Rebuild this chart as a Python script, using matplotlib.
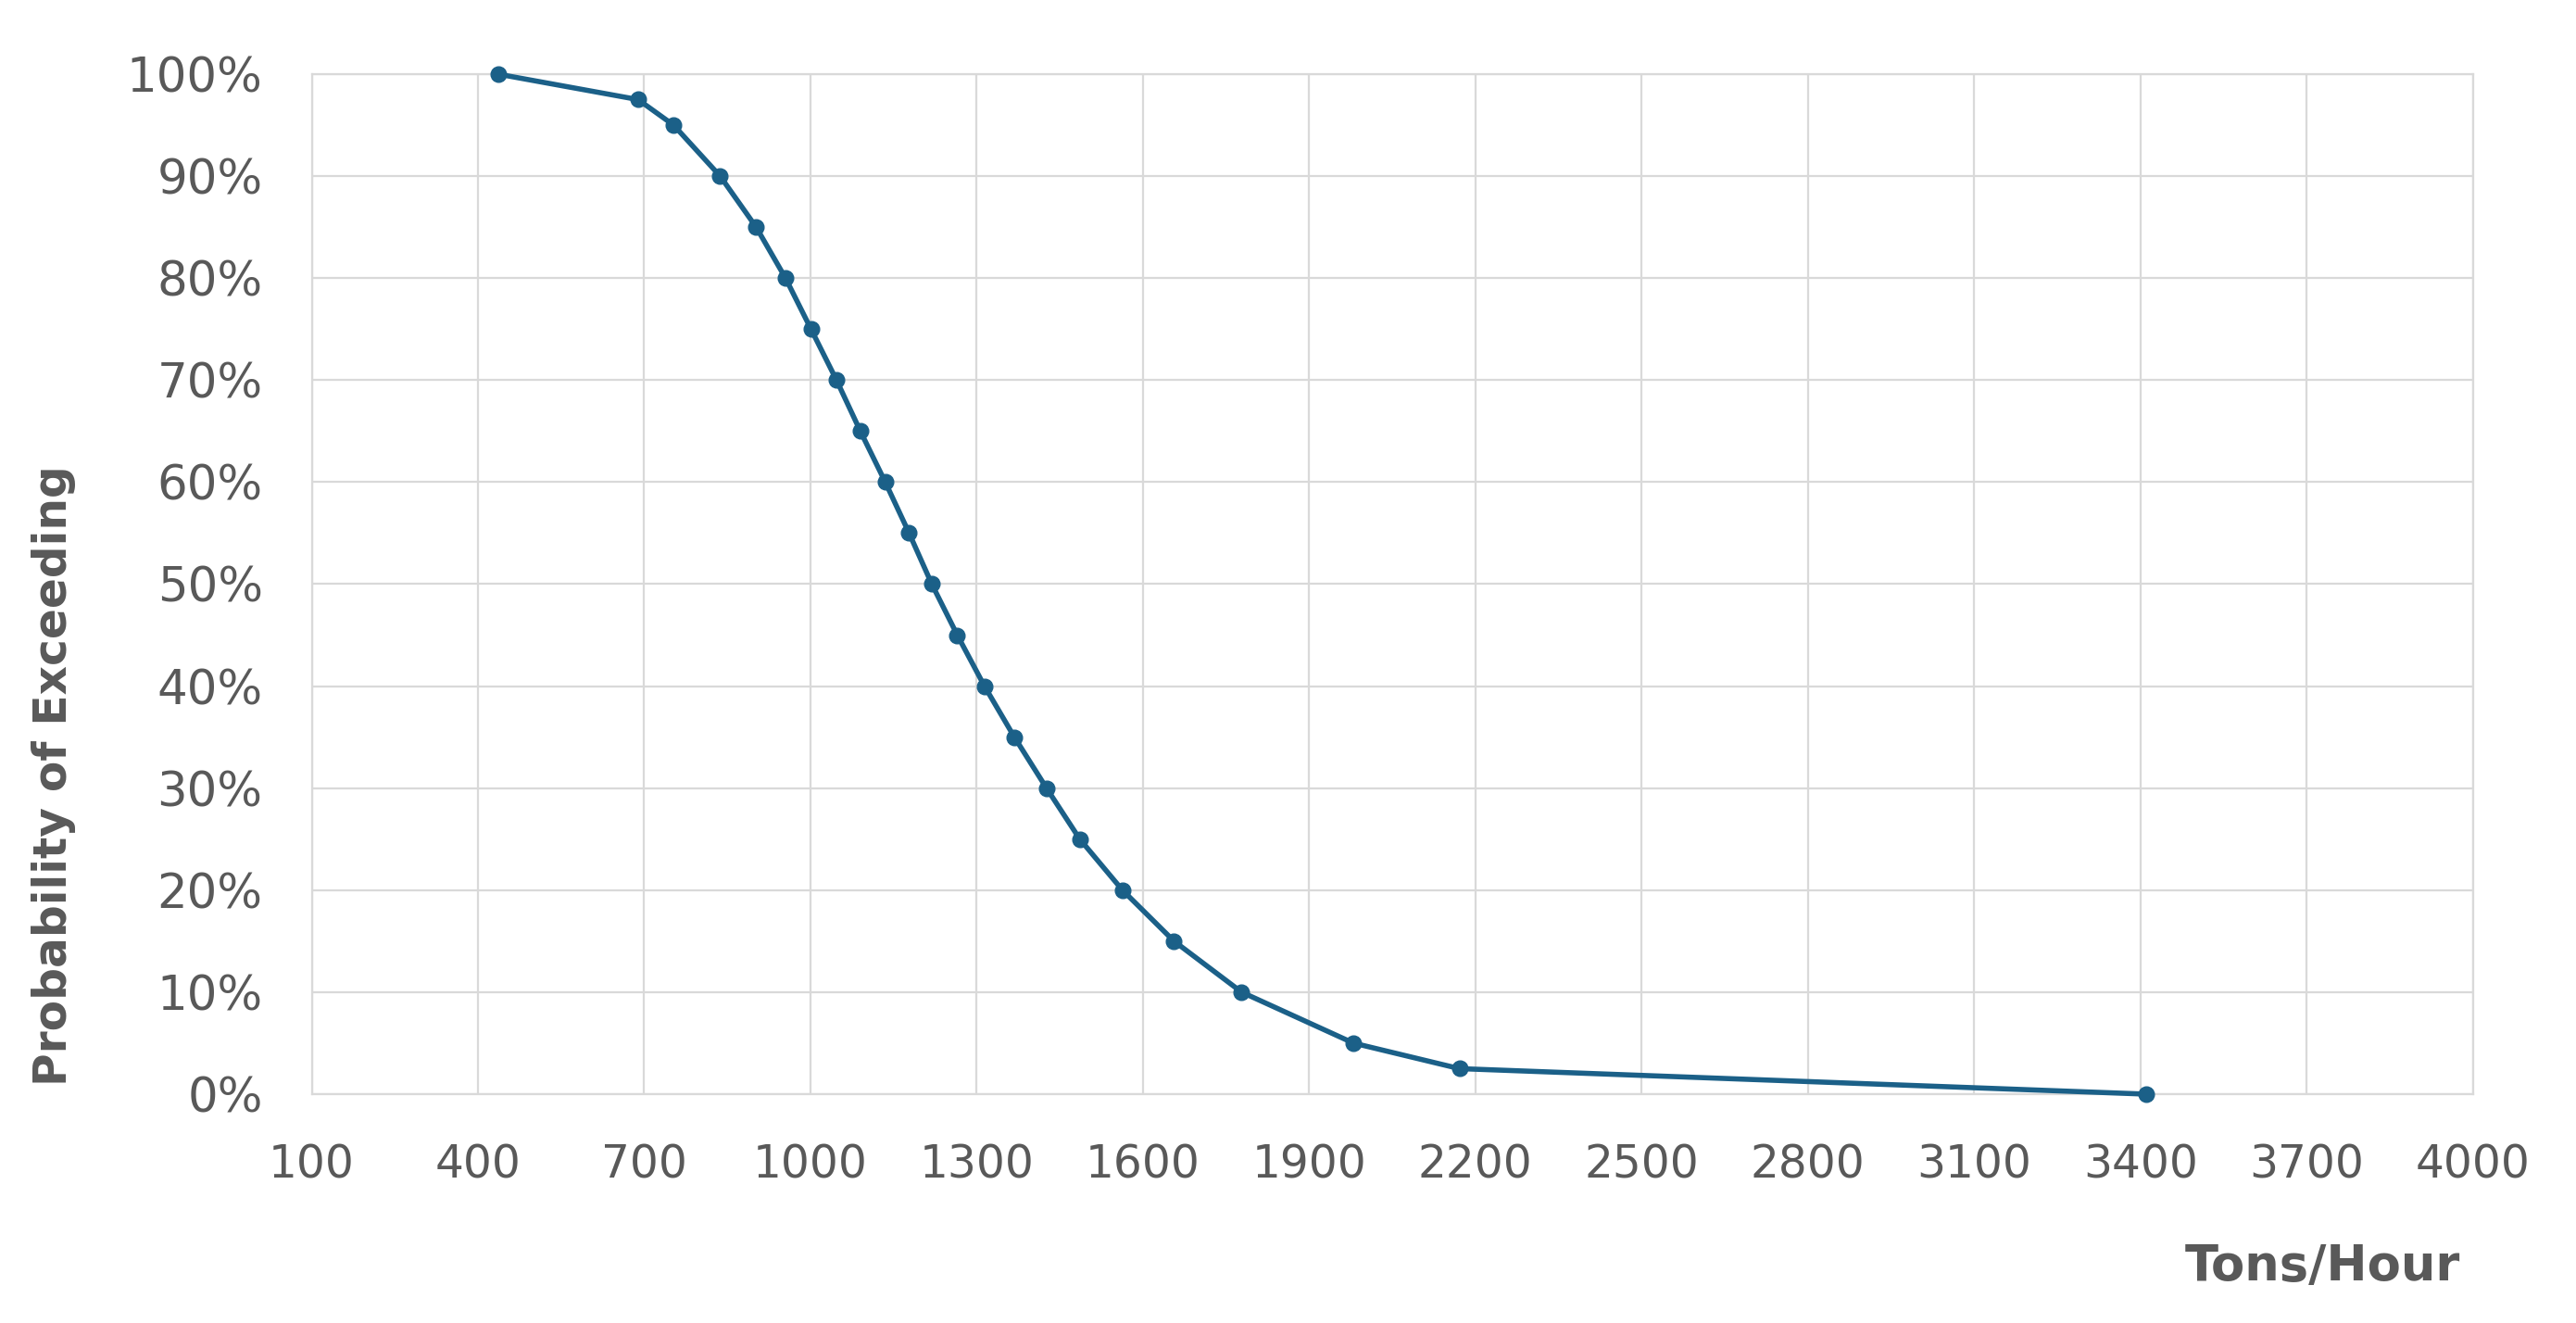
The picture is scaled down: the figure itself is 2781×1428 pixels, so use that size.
import numpy as np
import matplotlib.pyplot as plt
from matplotlib.ticker import PercentFormatter

# tons/hour vs probability of exceeding
tons_per_hour = [436, 689, 753, 837, 902, 955, 1001, 1047, 1090, 1135, 1178, 1219,
                 1265, 1314, 1368, 1426, 1486, 1563, 1656, 1778, 1980, 2171, 3410]
prob_exceed = [100, 97.5, 95, 90, 85, 80, 75, 70, 65, 60, 55, 50,
               45, 40, 35, 30, 25, 20, 15, 10, 5, 2.5, 0]

x_ticks = np.arange(100, 4001, 300)
y_ticks = np.arange(0, 101, 10)

text_col = '#595959'
grid_col = '#d9d9d9'
line_col = '#1b6088'

fig = plt.figure(figsize=(27.81, 14.28), dpi=100)
ax = fig.add_axes([0.121, 0.173, 0.839, 0.771])

ax.plot(tons_per_hour, prob_exceed, color=line_col, lw=4,
        marker='o', markersize=12, zorder=3, clip_on=False)

ax.set_xlim(100, 4000)
ax.set_ylim(0, 100)
ax.set_xticks(x_ticks)
ax.set_yticks(y_ticks)
ax.yaxis.set_major_formatter(PercentFormatter(decimals=0))
ax.grid(True, color=grid_col, lw=1.6)
ax.set_axisbelow(True)
for s in ax.spines.values():
    s.set_color(grid_col)
    s.set_linewidth(1.6)
ax.tick_params(length=0, labelcolor=text_col)
ax.tick_params(axis='x', pad=38, labelsize=35)
ax.tick_params(axis='y', pad=38, labelsize=37)

fig.text(0.021, 0.414, 'Probability of Exceeding', rotation=90, ha='center', va='center',
         fontsize=35, fontweight='bold', color=text_col)
fig.text(0.955, 0.043, 'Tons/Hour', ha='right', va='center',
         fontsize=38, fontweight='bold', color=text_col)

fig.savefig('out.png', dpi=100)
